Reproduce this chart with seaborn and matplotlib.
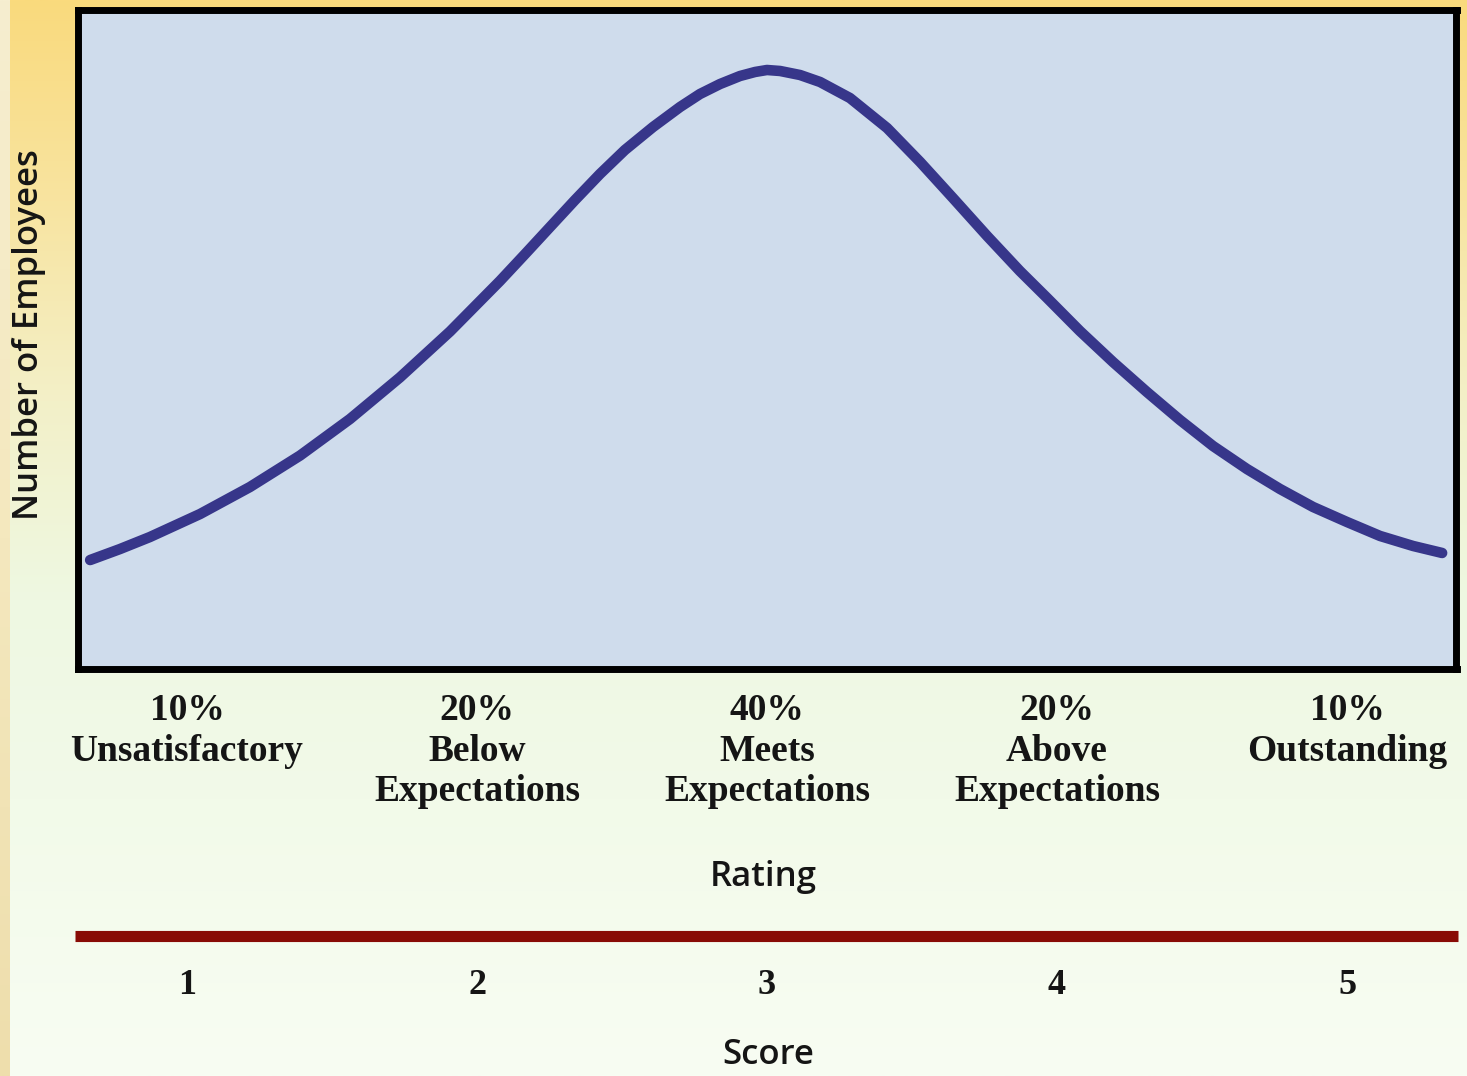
import numpy as np
import matplotlib
matplotlib.use("Agg")
import matplotlib.pyplot as plt
import seaborn as sns

# Performance rating scale: score positions and category labels
scores = [1, 2, 3, 4, 5]
score_labels = ["1", "2", "3", "4", "5"]
rating_pct = ["10%", "20%", "40%", "20%", "10%"]
rating_names = ["Unsatisfactory", "Below\nExpectations", "Meets\nExpectations",
                "Above\nExpectations", "Outstanding"]

# Distribution curve (score vs. relative number of employees)
curve_score = [0.666, 0.769, 0.872, 1.045, 1.217, 1.390, 1.562, 1.734, 1.907,
               2.079, 2.166, 2.252, 2.338, 2.424, 2.510, 2.607, 2.700, 2.769,
               2.838, 2.907, 2.959, 3.000, 3.045, 3.114, 3.183, 3.286, 3.414,
               3.528, 3.641, 3.759, 3.872, 3.966, 4.079, 4.193, 4.310, 4.424,
               4.538, 4.655, 4.769, 4.883, 5.000, 5.114, 5.228, 5.328]
curve_height = [16.46, 18.13, 19.95, 23.44, 27.54, 32.32, 37.86, 44.16, 51.14,
                58.80, 62.90, 67.00, 71.09, 75.04, 78.68, 82.17, 85.20, 87.18,
                88.69, 89.91, 90.52, 90.82, 90.67, 90.06, 89.00, 86.57, 82.02,
                76.86, 71.40, 65.63, 60.32, 56.22, 51.21, 46.51, 41.96, 37.71,
                33.76, 30.27, 27.24, 24.51, 22.23, 20.11, 18.59, 17.53]

sns.set_style("white")
plt.rcParams["font.family"] = ["DejaVu Sans"]

W, H = 1467, 1076
fig = plt.figure(figsize=(W / 100, H / 100), dpi=100)

# Page background: warm yellow at the top fading to pale green below
stops_y = np.array([0, 200, 400, 600, 800, 1076]) / H
stops_c = np.array([[250, 218, 125], [248, 228, 160], [243, 240, 200],
                    [238, 248, 226], [242, 250, 233], [248, 253, 243]]) / 255.0
yy = np.linspace(0, 1, 400)
grad = np.stack([np.interp(yy, stops_y, stops_c[:, k]) for k in range(3)], axis=-1)
img = np.repeat(grad[:, None, :], 2, axis=1)
bg = fig.add_axes([0, 0, 1, 1], zorder=-10)
bg.imshow(img, aspect="auto", extent=[0, 1, 1, 0])
strip_c = np.array([[246, 238, 208], [244, 232, 190], [238, 222, 172]]) / 255.0
strip = np.stack([np.interp(yy, [0, 0.5, 1], strip_c[:, k]) for k in range(3)], axis=-1)
bg.imshow(np.repeat(strip[:, None, :], 2, axis=1), aspect="auto",
          extent=[0, 10 / W, 1, 0])
bg.set_xlim(0, 1)
bg.set_ylim(1, 0)
bg.axis("off")

label_font = dict(family=["Open Sans", "DejaVu Sans"], fontweight=600,
                  color="#151515")
serif_font = dict(family="Liberation Serif", fontweight="bold")

# Main plot panel
left, right, top, bottom = 77.5, 1456.5, 9.5, 668.5
ax = fig.add_axes([left / W, 1 - bottom / H, (right - left) / W, (bottom - top) / H])
ax.set_facecolor("#CFDCEC")
sns.lineplot(x=curve_score, y=curve_height, ax=ax, color="#37368A",
             linewidth=7.6, sort=False, solid_capstyle="round",
             solid_joinstyle="round")
px_per_unit = 290.0
ax.set_xlim(1 + (left - 187) / px_per_unit, 1 + (right - 187) / px_per_unit)
ax.set_ylim(0, 100)
for sp in ax.spines.values():
    sp.set_visible(True)
    sp.set_color("black")
    sp.set_linewidth(5)
ax.set_yticks([])
ax.set_xticks(scores)
ax.set_xticklabels([f"{p}\n{n}" for p, n in zip(rating_pct, rating_names)],
                   fontsize=27, linespacing=1.2, **serif_font)
ax.tick_params(axis="x", length=0, pad=18, colors="#151515")

ax.set_xlabel("Rating", fontsize=25, **label_font)
ax.xaxis.set_label_coords(763 / W, 1 - 860 / H, transform=fig.transFigure)
ax.set_ylabel("Number of Employees", fontsize=25, va="center", **label_font)
ax.yaxis.set_label_coords(29 / W, 1 - 335 / H, transform=fig.transFigure)

# Score scale with red rule
l2, r2, y2 = 75, 1458, 936
ax2 = fig.add_axes([l2 / W, 1 - y2 / H, (r2 - l2) / W, 0.0001])
ax2.set_facecolor("none")
ax2.set_xlim(1 + (l2 - 187) / px_per_unit, 1 + (r2 - 187) / px_per_unit)
for name, sp in ax2.spines.items():
    sp.set_visible(name == "bottom")
ax2.spines["bottom"].set_color("#880B05")
ax2.spines["bottom"].set_linewidth(8)
ax2.spines["bottom"].set_capstyle("butt")
ax2.set_yticks([])
ax2.set_xticks(scores)
ax2.set_xticklabels(score_labels, fontsize=26, **serif_font)
ax2.tick_params(axis="x", length=0, pad=24, colors="#151515")
ax2.set_xlabel("Score", fontsize=25, **label_font)
ax2.xaxis.set_label_coords(768 / W, 1 - 1038 / H, transform=fig.transFigure)

fig.savefig("out.png", dpi=100)
